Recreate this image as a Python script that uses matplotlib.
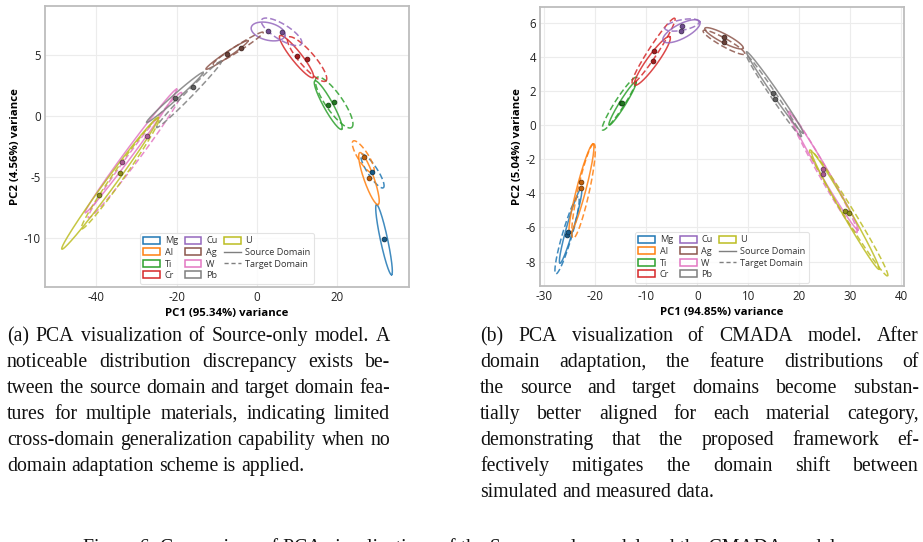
import numpy as np
import matplotlib
matplotlib.use("Agg")
import matplotlib.pyplot as plt
from matplotlib.patches import Patch
from matplotlib.lines import Line2D
import matplotlib.colors as mcolors

plt.rcParams['font.family'] = ['Open Sans', 'DejaVu Sans']
plt.rcParams['axes.unicode_minus'] = False

materials = ["Mg", "Al", "Ti", "Cr", "Cu", "Ag", "W", "Pb", "U"]
colors = ["#1f77b4", "#ff7f0e", "#2ca02c", "#d62728", "#9467bd",
          "#8c564b", "#e377c2", "#7f7f7f", "#bcbd22"]

# ---- (a) Source-only model: ellipses as (major-axis end 1, end 2, minor/major ratio)
a_src_ell = {
    "Mg": ((29.8, -7.25), (33.55, -13.0), 0.10),
    "Al": ((25.65, -3.0), (30.2, -7.25), 0.18),
    "Ti": ((14.45, 2.87), (21.1, -1.09), 0.17),
    "Cr": ((5.73, 6.57), (14.0, 3.15), 0.19),
    "Cu": ((-1.4, 7.26), (7.0, 6.57), 0.50),
    "Ag": ((-12.7, 3.83), (-2.2, 6.16), 0.10),
    "W": ((-42.8, -7.93), (-20.0, 2.19), 0.05),
    "Pb": ((-27.5, -0.54), (-13.4, 3.56), 0.07),
    "U": ((-48.6, -10.9), (-24.6, -0.13), 0.06),
}
a_tgt_ell = {
    "Mg": ((26.1, -3.15), (31.5, -5.88), 0.25),
    "Al": ((24.0, -2.05), (29.0, -4.65), 0.28),
    "Ti": ((14.9, 3.15), (23.6, -0.95), 0.28),
    "Cr": ((7.8, 6.44), (17.2, 2.87), 0.26),
    "Cu": ((1.2, 7.88), (11.1, 5.89), 0.33),
    "Ag": ((-10.9, 4.24), (1.57, 6.85), 0.10),
    "W": ((-42.0, -8.34), (-18.75, 1.92), 0.07),
    "Pb": ((-25.0, -0.95), (-8.8, 4.5), 0.07),
    "U": ((-43.7, -9.24), (-24.3, -0.13), 0.08),
}
a_src_mean = {"Mg": (31.7, -10.1), "Al": (28.0, -5.09), "Ti": (17.8, 0.9),
              "Cr": (9.9, 4.93), "Cu": (2.83, 6.95), "Ag": (-7.47, 5.07),
              "W": (-33.5, -3.75), "Pb": (-20.4, 1.5), "U": (-39.35, -6.51)}
a_tgt_mean = {"Mg": (28.8, -4.6), "Al": (26.8, -3.33), "Ti": (19.3, 1.15),
              "Cr": (12.5, 4.63), "Cu": (6.2, 6.85), "Ag": (-3.98, 5.6),
              "W": (-27.5, -1.64), "Pb": (-16.0, 2.4), "U": (-34.1, -4.7)}

# ---- (b) CMADA model
b_src_ell = {
    "Mg": ((-26.9, -8.1), (-22.7, -3.7), 0.09),
    "Al": ((-24.96, -6.34), (-20.4, -1.1), 0.10),
    "Ti": ((-17.26, 0.0), (-12.0, 2.54), 0.12),
    "Cr": ((-12.2, 2.35), (-5.37, 5.18), 0.18),
    "Cu": ((-6.68, 4.94), (0.5, 6.06), 0.35),
    "Ag": ((1.49, 5.67), (9.0, 4.5), 0.20),
    "W": ((18.1, 0.69), (31.5, -6.15), 0.06),
    "Pb": ((9.65, 4.3), (20.75, -0.48), 0.06),
    "U": ((22.4, -1.56), (35.6, -8.45), 0.06),
}
b_tgt_ell = {
    "Mg": ((-27.7, -8.72), (-23.3, -4.2), 0.12),
    "Al": ((-24.3, -6.63), (-20.25, -1.1), 0.12),
    "Ti": ((-18.55, -0.29), (-11.9, 2.8), 0.15),
    "Cr": ((-12.7, 2.45), (-4.4, 6.26), 0.12),
    "Cu": ((-6.35, 5.67), (0.37, 6.06), 0.30),
    "Ag": ((1.16, 5.53), (9.3, 4.17), 0.17),
    "W": ((17.9, 0.8), (31.3, -6.3), 0.07),
    "Pb": ((9.65, 4.1), (20.4, -0.68), 0.06),
    "U": ((22.06, -1.46), (37.3, -8.84), 0.07),
}
b_src_mean = {"Mg": (-25.6, -6.44), "Al": (-22.8, -3.31), "Ti": (-14.97, 1.28),
              "Cr": (-8.44, 4.34), "Cu": (-2.96, 5.8), "Ag": (5.2, 5.14),
              "W": (24.66, -2.59), "Pb": (14.87, 1.9), "U": (28.9, -5.01)}
b_tgt_mean = {"Mg": (-25.3, -6.24), "Al": (-22.86, -3.7), "Ti": (-14.8, 1.28),
              "Cr": (-8.76, 3.76), "Cu": (-3.15, 5.5), "Ag": (5.2, 4.87),
              "W": (24.66, -2.86), "Pb": (15.3, 1.55), "U": (29.7, -5.13)}

xlabel_a = "PC1 (95.34%) variance"
ylabel_a = "PC2 (4.56%) variance"
xlabel_b = "PC1 (94.85%) variance"
ylabel_b = "PC2 (5.04%) variance"

caption_a = ["(a) PCA visualization of Source-only model.  A",
             "noticeable distribution discrepancy exists be-",
             "tween the source domain and target domain fea-",
             "tures for multiple materials, indicating limited",
             "cross-domain generalization capability when no",
             "domain adaptation scheme is applied."]
caption_b = ["(b) PCA visualization of CMADA model.  After",
             "domain adaptation, the feature distributions of",
             "the source and target domains become substan-",
             "tially better aligned for each material category,",
             "demonstrating that the proposed framework ef-",
             "fectively mitigates the domain shift between",
             "simulated and measured data."]
fig_caption = "Figure 6: Comparison of PCA visualizations of the Source-only model and the CMADA model."

W_PX, H_PX = 923, 542
fig = plt.figure(figsize=(W_PX / 100, H_PX / 100), dpi=100)


def px_axes(x0, y0, x1, y1):
    return fig.add_axes([x0 / W_PX, 1 - y1 / H_PX, (x1 - x0) / W_PX, (y1 - y0) / H_PX])


def darker(c, f=0.6):
    r, g, b = mcolors.to_rgb(c)
    return (r * f, g * f, b * f)


def draw_ellipse(ax, p1, p2, ratio, color, ls):
    d1 = ax.transData.transform(p1)
    d2 = ax.transData.transform(p2)
    c = (d1 + d2) / 2
    a = (d2 - d1) / 2
    b = np.array([-a[1], a[0]]) * ratio
    t = np.linspace(0, 2 * np.pi, 200)
    pts = c[None, :] + np.outer(np.cos(t), a) + np.outer(np.sin(t), b)
    data = ax.transData.inverted().transform(pts)
    ax.plot(data[:, 0], data[:, 1], color=color, ls=ls, lw=1.1, alpha=0.85,
            dashes=(4, 2) if ls == "--" else (None, None))


def panel(ax, xlim, ylim, xticks, yticks, src_ell, tgt_ell, src_mean, tgt_mean, xl, yl, ylp):
    ax.set_xlim(*xlim)
    ax.set_ylim(*ylim)
    ax.set_xticks(xticks)
    ax.set_yticks(yticks)
    ax.grid(True, color="#ececec", lw=0.8)
    ax.set_axisbelow(True)
    for s in ax.spines.values():
        s.set_color("#bdbdbd")
        s.set_linewidth(1.3)
    ax.tick_params(labelsize=8.3, colors="#bdbdbd", labelcolor="#222222", length=0, width=0.8, pad=3)
    for m, col in zip(materials, colors):
        p1, p2, r = src_ell[m]
        draw_ellipse(ax, p1, p2, r, col, "-")
        p1, p2, r = tgt_ell[m]
        draw_ellipse(ax, p1, p2, r, col, "--")
    for m, col in zip(materials, colors):
        for mean in (src_mean[m], tgt_mean[m]):
            ax.plot(mean[0], mean[1], "o", ms=3.4, mfc=darker(col, 0.75),
                    mec=darker(col, 0.45), mew=0.6, zorder=5)
    ax.set_xlabel(xl, fontsize=8.2, fontweight="bold", labelpad=3)
    ax.set_ylabel(yl, fontsize=8.2, fontweight="bold", labelpad=ylp)
    handles = [Patch(facecolor="none", edgecolor=c, lw=1.1, label=m) for m, c in zip(materials, colors)]
    handles += [Line2D([0], [0], color="#7f7f7f", lw=1.0, label="Source Domain"),
                Line2D([0], [0], color="#7f7f7f", lw=1.0, ls="--", dashes=(3, 2), label="Target Domain")]
    leg = ax.legend(handles=handles, ncol=3, loc="lower center", bbox_to_anchor=(0.5, 0.0),
                    borderaxespad=0.35,
                    fontsize=6.6, frameon=True, handlelength=1.85, handleheight=0.8,
                    columnspacing=0.7, handletextpad=0.5, labelspacing=0.28,
                    borderpad=0.4, fancybox=True)
    leg.get_frame().set_edgecolor("#dddddd")
    leg.get_frame().set_linewidth(0.8)
    for t in leg.get_texts():
        t.set_color("#333333")


ax1 = px_axes(45, 6, 409, 287)
panel(ax1, (-52.8, 37.9), (-14.0, 9.0), [-40, -20, 0, 20], [-10, -5, 0, 5],
      a_src_ell, a_tgt_ell, a_src_mean, a_tgt_mean, xlabel_a, ylabel_a, 2)

ax2 = px_axes(540, 7, 904, 286)
panel(ax2, (-30.8, 40.5), (-9.43, 6.92), list(range(-30, 41, 10)), [-8, -6, -4, -2, 0, 2, 4, 6],
      b_src_ell, b_tgt_ell, b_src_mean, b_tgt_mean, xlabel_b, ylabel_b, 2)

# ---- captions (justified, word by word)
renderer = fig.canvas.get_renderer()
SERIF = ["Liberation Serif", "DejaVu Serif"]


def text_width(s, size):
    t = fig.text(0, 0, s, family=SERIF, fontsize=size)
    w = t.get_window_extent(renderer).width
    t.remove()
    return w


# pick a caption size so that the tightest justified line is set with normal spacing
targets = [(l, 390 - 7) for l in caption_a[1:-1]] + [(l, 919 - 480) for l in caption_b[:-1]]
CAP_SIZE = min(10 * tw / text_width(s, 10) for s, tw in targets) * 0.995
CAP_FONT = dict(family=SERIF, fontsize=CAP_SIZE, color="#111111")


def justified(lines, x0, x1, y0, dy, natural_first=False):
    sp_w = text_width("a a", CAP_SIZE) - text_width("aa", CAP_SIZE)
    for i, line in enumerate(lines):
        words = line.split()
        y = y0 + i * dy
        texts = [fig.text(0, 1 - y / H_PX, w, ha="left", va="baseline", **CAP_FONT) for w in words]
        widths = [t.get_window_extent(renderer).width for t in texts]
        gap = (x1 - x0 - sum(widths)) / max(len(words) - 1, 1)
        if i == len(lines) - 1 or len(words) == 1 or (i == 0 and natural_first):
            gap = min(sp_w * (1.6 if i == 0 else 1.0), gap)
        x = x0
        for t, w in zip(texts, widths):
            t.set_x(x / W_PX)
            x += w + gap


justified(caption_a, 7, 390, 341, 26, natural_first=True)
justified(caption_b, 480, 919, 341, 26)

fig.text(0.5, 1 - 553 / H_PX, fig_caption, ha="center", va="baseline", **CAP_FONT)

fig.savefig("out.png", dpi=100)
